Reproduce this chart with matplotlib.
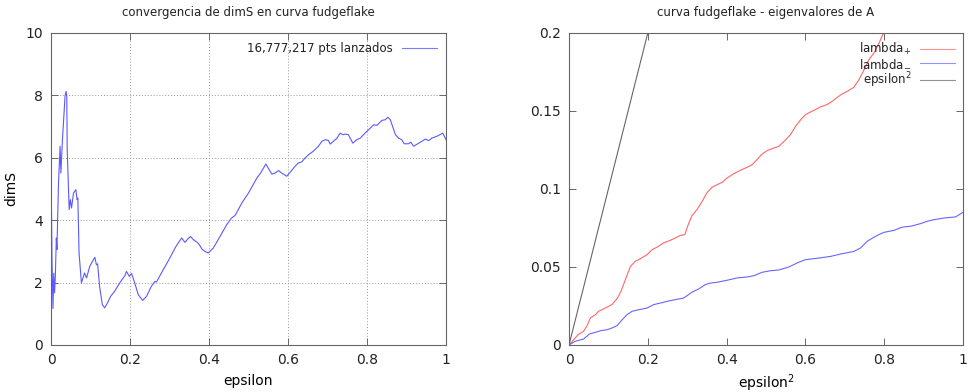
import numpy as np
import matplotlib.pyplot as plt

# convergencia de dimS vs epsilon (curva fudgeflake)
eps = [0.0, 0.0025, 0.005, 0.007, 0.009, 0.011, 0.0135, 0.015, 0.019, 0.023, 0.025,
       0.029, 0.0355, 0.038, 0.04, 0.041, 0.046, 0.049, 0.052, 0.057, 0.063, 0.066,
       0.068, 0.071, 0.077, 0.085, 0.09, 0.098, 0.105, 0.111, 0.115, 0.118, 0.123,
       0.13, 0.136, 0.145, 0.151, 0.161, 0.174, 0.187, 0.191, 0.198, 0.204, 0.212,
       0.221, 0.232, 0.242, 0.254, 0.263, 0.267, 0.284, 0.301, 0.314, 0.322, 0.331,
       0.339, 0.345, 0.353, 0.36, 0.369, 0.374, 0.383, 0.39, 0.398, 0.411, 0.428,
       0.445, 0.457, 0.466, 0.483, 0.5, 0.521, 0.529, 0.544, 0.55, 0.559, 0.567,
       0.576, 0.584, 0.597, 0.605, 0.618, 0.626, 0.635, 0.643, 0.652, 0.664, 0.677,
       0.686, 0.694, 0.702, 0.707, 0.715, 0.724, 0.732, 0.739, 0.745, 0.753, 0.764,
       0.774, 0.783, 0.795, 0.804, 0.817, 0.825, 0.838, 0.846, 0.853, 0.859, 0.866,
       0.872, 0.88, 0.888, 0.894, 0.905, 0.911, 0.918, 0.931, 0.939, 0.948, 0.956,
       0.964, 0.977, 0.992, 1.0]
dimS = [5.94, 2.73, 1.17, 2.3, 1.67, 2.2, 3.43, 3.06, 5.2, 6.37, 5.51,
        6.58, 7.97, 8.13, 7.97, 6.26, 4.34, 4.66, 4.39, 4.87, 4.98, 4.66,
        4.71, 2.95, 1.99, 2.31, 2.15, 2.52, 2.68, 2.81, 2.57, 2.6, 1.88,
        1.29, 1.19, 1.4, 1.56, 1.72, 1.99, 2.22, 2.36, 2.2, 2.29, 1.99,
        1.61, 1.43, 1.56, 1.88, 2.04, 2.02, 2.41, 2.79, 3.11, 3.27, 3.43,
        3.29, 3.38, 3.48, 3.38, 3.30, 3.24, 3.06, 3.0, 2.95, 3.11, 3.48,
        3.86, 4.07, 4.15, 4.55, 4.87, 5.35, 5.48, 5.8, 5.67, 5.48, 5.51,
        5.59, 5.51, 5.41, 5.53, 5.73, 5.83, 5.87, 5.99, 6.1, 6.21, 6.37,
        6.53, 6.58, 6.56, 6.44, 6.53, 6.63, 6.79, 6.74, 6.76, 6.74, 6.47,
        6.58, 6.63, 6.79, 6.9, 7.06, 7.04, 7.2, 7.22, 7.3, 7.22, 6.96,
        6.74, 6.63, 6.58, 6.45, 6.45, 6.5, 6.37, 6.47, 6.53, 6.6, 6.55,
        6.63, 6.69, 6.79, 6.58]

# eigenvalores de A vs epsilon^2
eps2_mas = [0.0, 0.012, 0.023, 0.037, 0.046, 0.054, 0.067, 0.075, 0.092, 0.109, 0.122,
            0.132, 0.143, 0.156, 0.168, 0.181, 0.198, 0.211, 0.224, 0.24, 0.257, 0.27,
            0.283, 0.294, 0.301, 0.312, 0.325, 0.338, 0.351, 0.363, 0.376, 0.389, 0.401,
            0.418, 0.435, 0.452, 0.465, 0.477, 0.49, 0.503, 0.516, 0.533, 0.55, 0.562,
            0.575, 0.588, 0.6, 0.613, 0.626, 0.638, 0.655, 0.668, 0.681, 0.693, 0.706,
            0.723, 0.736, 0.749, 0.761, 0.774, 0.787, 0.798, 0.81]
lambda_mas = [0.0, 0.0034, 0.0066, 0.0088, 0.0124, 0.0173, 0.0194, 0.0216, 0.0237, 0.0259, 0.0297,
              0.0344, 0.0419, 0.0504, 0.0536, 0.0553, 0.0579, 0.0611, 0.0628, 0.0654, 0.0671, 0.0686,
              0.0703, 0.0707, 0.0761, 0.0829, 0.0868, 0.0921, 0.0979, 0.1011, 0.1028, 0.1043, 0.107,
              0.1098, 0.112, 0.1139, 0.1156, 0.1188, 0.1224, 0.1246, 0.1259, 0.1274, 0.1316, 0.1348,
              0.1402, 0.1444, 0.1476, 0.1494, 0.1509, 0.1526, 0.1541, 0.1562, 0.1588, 0.1609, 0.1626,
              0.1652, 0.1701, 0.1765, 0.1829, 0.1872, 0.1936, 0.2, 0.204]

eps2_menos = [0.0, 0.016, 0.037, 0.052, 0.067, 0.08, 0.097, 0.109, 0.122, 0.135, 0.147,
              0.16, 0.177, 0.198, 0.215, 0.232, 0.249, 0.27, 0.291, 0.312, 0.329, 0.346,
              0.359, 0.376, 0.401, 0.427, 0.452, 0.469, 0.49, 0.511, 0.533, 0.558, 0.579,
              0.6, 0.63, 0.664, 0.689, 0.723, 0.74, 0.757, 0.778, 0.799, 0.825, 0.846,
              0.867, 0.892, 0.909, 0.926, 0.952, 0.981, 1.0]
lambda_menos = [0.0, 0.0024, 0.0038, 0.0071, 0.0081, 0.0092, 0.0098, 0.0109, 0.0124, 0.0162, 0.0194,
                0.0216, 0.0226, 0.0237, 0.0259, 0.0269, 0.028, 0.0291, 0.0301, 0.0338, 0.0359, 0.0387,
                0.0397, 0.0402, 0.0415, 0.043, 0.0436, 0.0444, 0.0466, 0.0476, 0.0481, 0.05, 0.0526,
                0.0547, 0.0556, 0.0568, 0.0583, 0.06, 0.0622, 0.0665, 0.0697, 0.0722, 0.0735, 0.0756,
                0.0761, 0.0778, 0.0793, 0.0803, 0.0814, 0.0821, 0.085]

eps2_ref = [0.0, 1.0]

plt.rcParams['font.family'] = ['DejaVu Sans']
plt.rcParams['font.size'] = 10
plt.rcParams['text.color'] = '#222222'

fig = plt.figure(figsize=(9.68, 3.92), dpi=100)
ax1 = fig.add_axes([51 / 968, 1 - 345 / 392, 395 / 968, 312 / 392])
ax2 = fig.add_axes([569 / 968, 1 - 345 / 392, 394 / 968, 312 / 392])

def estilo(ax):
    for s in ax.spines.values():
        s.set_color('#666666')
        s.set_linewidth(0.8)
    ax.tick_params(direction='in', top=True, right=True, length=5, width=0.7,
                   color='#666666', labelsize=10, labelcolor='#222222', pad=6)

# panel izquierdo
ax1.plot(eps, dimS, color='#5a5aff', lw=0.8, label='16,777,217 pts lanzados')
ax1.set_xlim(0, 1)
ax1.set_ylim(0, 10)
ax1.set_xticks([0, 0.2, 0.4, 0.6, 0.8, 1])
ax1.set_xticklabels(['0', '0.2', '0.4', '0.6', '0.8', '1'])
ax1.set_yticks([0, 2, 4, 6, 8, 10])
ax1.grid(True, linestyle=(0, (1, 2)), color='#999999', lw=0.7)
ax1.set_title('convergencia de dimS en curva fudgeflake', fontsize=8.5, pad=12)
ax1.set_xlabel('epsilon', labelpad=5)
ax1.set_ylabel('dimS', labelpad=5)
estilo(ax1)
leg1 = ax1.legend(loc='upper right', frameon=False, markerfirst=False, handlelength=2.9,
                  fontsize=8.5, borderaxespad=0.4)
for l in leg1.get_lines():
    l.set_alpha(0.8)

# panel derecho
ax2.plot(eps2_mas, lambda_mas, color='#ff6666', lw=0.8, label='lambda$_{+}$')
ax2.plot(eps2_menos, lambda_menos, color='#6666ff', lw=0.8, label='lambda$_{-}$')
ax2.plot(eps2_ref, eps2_ref, color='#666666', lw=0.8, label='epsilon$^{2}$')
ax2.set_xlim(0, 1)
ax2.set_ylim(0, 0.2)
ax2.set_xticks([0, 0.2, 0.4, 0.6, 0.8, 1])
ax2.set_xticklabels(['0', '0.2', '0.4', '0.6', '0.8', '1'])
ax2.set_yticks([0, 0.05, 0.1, 0.15, 0.2])
ax2.set_yticklabels(['0', '0.05', '0.1', '0.15', '0.2'])
ax2.set_title('curva fudgeflake - eigenvalores de A', fontsize=8.5, pad=12)
ax2.set_xlabel('epsilon$^{2}$', labelpad=4)
estilo(ax2)
leg = ax2.legend(loc='upper right', frameon=False, markerfirst=False, handlelength=2.9,
                 fontsize=8.5, borderaxespad=0.3, labelspacing=0.0)
for l in leg.get_lines():
    l.set_alpha(0.7)

fig.savefig('out.png', dpi=100)
